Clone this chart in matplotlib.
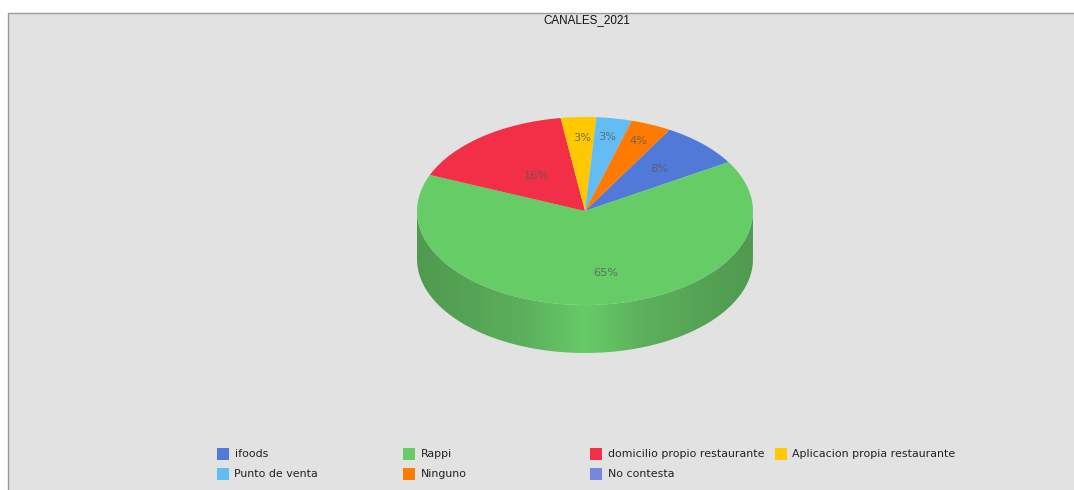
import numpy as np
import matplotlib
matplotlib.use("Agg")
import matplotlib.pyplot as plt
from matplotlib.colors import LinearSegmentedColormap
from matplotlib.patches import PathPatch, Rectangle
from matplotlib.path import Path

# Share of respondents per sales channel, in percent
channels = ["ifoods", "Rappi", "domicilio propio restaurante",
            "Aplicacion propia restaurante", "Punto de venta", "Ninguno",
            "No contesta"]
shares = [7.9, 64.9, 16.4, 3.4, 3.4, 3.9, 0.0]
chart_title = "CANALES_2021"

colors = ["#5079d8", "#66cc66", "#f22f46", "#ffc800", "#62bdf5", "#ff7a00",
          "#7588dd"]
W, H = 1074, 490
BG = "#e2e2e2"

# Pie ellipse in pixels
CX, CY, RX, RY = 585, 211, 168, 94
DEPTH = 48
START_ANGLE = 59.8

# Label placement per slice: distance from centre, horizontal nudge in pixels
label_radius = [0.63, 0.66, 0.47, 0.78, 0.80, 0.81, 0.0]
label_nudge = [0, 12, 0, 2, -1, 0, 0]

fig = plt.figure(figsize=(W / 100, H / 100), dpi=100, facecolor="white")

# Full-figure canvas in pixel coordinates for panel, title and legend
canvas = fig.add_axes([0, 0, 1, 1])
canvas.set_xlim(0, W)
canvas.set_ylim(H, 0)
canvas.axis("off")
canvas.add_patch(Rectangle((7.5, 13.5), W, H, facecolor=BG,
                           edgecolor="#9a9a9a", linewidth=1))
canvas.text(586.5, 20.5, chart_title, ha="center", va="center",
            fontsize=8.4, family="Liberation Sans", color="#111111")

# Unit-circle axes stretched to the ellipse, with room below for the wall
drop = DEPTH / RY
ax = fig.add_axes([(CX - RX) / W, 1 - (CY + RY + DEPTH) / H,
                   2 * RX / W, (2 * RY + DEPTH) / H])
wedges, _ = ax.pie(shares, colors=colors, startangle=START_ANGLE,
                   counterclock=False, radius=1,
                   wedgeprops={"linewidth": 0, "edgecolor": "none"})
for w in wedges:
    w.set_zorder(2)

# Cylinder wall below the top face, shaded dark at the sides and light in front
t = np.linspace(np.pi, 2 * np.pi, 200)
xs = np.cos(t)
ys = np.sin(t)
wall = np.vstack([np.column_stack([xs, ys]),
                  np.column_stack([xs[::-1], ys[::-1] - drop]),
                  [[xs[0], ys[0]]]])
clip = PathPatch(Path(wall), transform=ax.transData, facecolor="none",
                 edgecolor="none")
ax.add_patch(clip)
shade = LinearSegmentedColormap.from_list(
    "wall", [(0.0, "#4f9a4f"), (0.15, "#55a355"), (0.32, "#5cb05c"),
             (0.5, "#66cc66"), (0.68, "#5cb05c"), (0.85, "#55a355"),
             (1.0, "#4f9a4f")])
img = ax.imshow(np.linspace(0, 1, 256)[None, :], cmap=shade, aspect="auto",
                extent=(-1, 1, -1 - drop, 0), zorder=0.5)
img.set_clip_path(clip)
ax.set_aspect("auto")
ax.set_xlim(-1, 1)
ax.set_ylim(-1 - drop, 1)
ax.patch.set_alpha(0)

# Percent labels at each slice's mid angle
total = sum(shares)
angle = START_ANGLE
for share, r, nudge in zip(shares, label_radius, label_nudge):
    sweep = 360 * share / total
    mid = np.radians(angle - sweep / 2)
    angle -= sweep
    if share == 0:
        continue
    ax.text(r * np.cos(mid) + nudge / RX, r * np.sin(mid), f"{share:.0f}%",
            ha="center", va="center", fontsize=8.2, family="DejaVu Sans",
            color="#5a5a5a", alpha=0.8, zorder=3)

# Legend: four columns, two rows
col_x = [217, 403, 590, 775]
row_y = [454, 474]
for i, (name, color) in enumerate(zip(channels, colors)):
    x = col_x[i % 4]
    y = row_y[i // 4]
    canvas.add_patch(Rectangle((x, y - 6), 12, 12, facecolor=color,
                               edgecolor="none"))
    canvas.text(x + 17.5, y, name, ha="left", va="center", fontsize=7.9,
                family="DejaVu Sans", color="#222222")

fig.savefig("out.png", dpi=100, facecolor="white")
